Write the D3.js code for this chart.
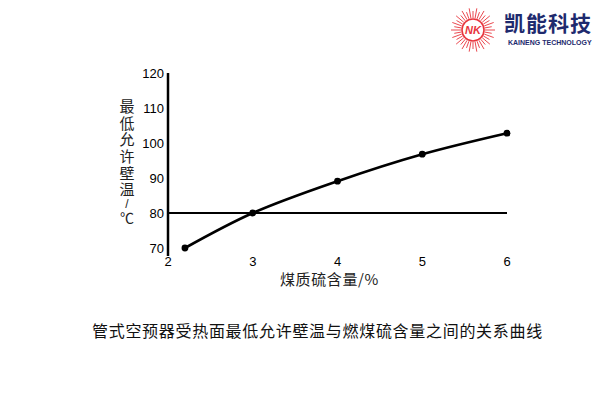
<!DOCTYPE html>
<html>
<head>
<meta charset="utf-8">
<script src="https://cdn.jsdelivr.net/npm/d3@7/dist/d3.min.js"></script>
<style>
  html, body { margin: 0; padding: 0; background: #fff; }
  svg { display: block; }
</style>
</head>
<body>
<svg id="chart" width="600" height="400"></svg>
<script>
// Sulfur content of coal (%) vs. minimum allowable wall temperature (°C)
const sulfur = [2.2, 3, 4, 5, 6];
const wallTemp = [70, 80, 89.1, 96.8, 102.8];
const xTicks = [2, 3, 4, 5, 6];
const yTicks = [70, 80, 90, 100, 110, 120];
const refTemp = 80;

const yLabel = "最低允许壁温";
const yUnit = "/℃";
const xLabel = "煤质硫含量/%";
const caption = "管式空预器受热面最低允许壁温与燃煤硫含量之间的关系曲线";

const svg = d3.select("#chart");
const cjk = "'Noto Sans CJK SC', sans-serif";
const num = "'Liberation Sans', Arial, sans-serif";

const x = d3.scaleLinear().domain([2, 6]).range([168, 507]);
const y = d3.scaleLinear().domain([70, 120]).range([248, 73]);

// Vertical axis line
svg.append("line")
  .attr("x1", x(2)).attr("x2", x(2))
  .attr("y1", y(120)).attr("y2", 256)
  .attr("stroke", "#000").attr("stroke-width", 2.5);

// Y tick labels
svg.append("g").selectAll("text").data(yTicks).join("text")
  .attr("x", x(2) - 4)
  .attr("y", d => y(d))
  .attr("dy", "0.36em")
  .attr("text-anchor", "end")
  .attr("font-family", num).attr("font-size", 13)
  .text(d => d);

// X tick labels
svg.append("g").selectAll("text").data(xTicks).join("text")
  .attr("x", d => x(d))
  .attr("y", 261)
  .attr("dy", "0.36em")
  .attr("text-anchor", "middle")
  .attr("font-family", num).attr("font-size", 13)
  .text(d => d);

// Reference line at 80 °C
svg.append("line")
  .attr("x1", x(2)).attr("x2", x(6))
  .attr("y1", y(refTemp)).attr("y2", y(refTemp))
  .attr("stroke", "#000").attr("stroke-width", 2);

// Curve
const pts = sulfur.map((s, i) => [s, wallTemp[i]]);
svg.append("path")
  .datum(pts)
  .attr("fill", "none")
  .attr("stroke", "#000")
  .attr("stroke-width", 2.6)
  .attr("stroke-linejoin", "round")
  .attr("d", d3.line().x(d => x(d[0])).y(d => y(d[1])).curve(d3.curveCatmullRom.alpha(0.5)));

svg.append("g").selectAll("circle").data(pts).join("circle")
  .attr("cx", d => x(d[0])).attr("cy", d => y(d[1]))
  .attr("r", 3.4).attr("fill", "#000");

// Vertical Y-axis title
svg.append("text")
  .attr("x", 127).attr("y", 99)
  .attr("font-family", cjk).attr("font-size", 15)
  .attr("letter-spacing", 1.6)
  .style("writing-mode", "vertical-rl")
  .style("text-orientation", "upright")
  .attr("fill", "#222")
  .text(yLabel);
svg.append("text")
  .attr("x", 127).attr("y", 204)
  .attr("dy", "0.36em")
  .attr("text-anchor", "middle")
  .attr("font-family", num).attr("font-size", 12)
  .attr("fill", "#222")
  .text(yUnit[0]);
svg.append("text")
  .attr("x", 127).attr("y", 218)
  .attr("dy", "0.36em")
  .attr("text-anchor", "middle")
  .attr("font-family", cjk).attr("font-size", 14)
  .attr("fill", "#222")
  .text(yUnit[1]);

// X-axis title
svg.append("text")
  .attr("x", 280).attr("y", 280).attr("dy", "0.36em")
  .attr("font-family", cjk).attr("font-size", 15)
  .attr("letter-spacing", 0.6)
  .attr("fill", "#222")
  .text(xLabel);

// Caption
svg.append("text")
  .attr("x", 92).attr("y", 331).attr("dy", "0.36em")
  .attr("font-family", cjk).attr("font-size", 16)
  .attr("letter-spacing", 0.7)
  .attr("fill", "#111")
  .text(caption);

// Company logo
const logo = svg.append("g").attr("transform", "translate(473,30)");
const rays = d3.range(36);
logo.selectAll("line").data(rays).join("line")
  .attr("x1", d => Math.cos(d * Math.PI / 18) * 12)
  .attr("y1", d => Math.sin(d * Math.PI / 18) * 12)
  .attr("x2", d => Math.cos(d * Math.PI / 18) * (d % 2 ? 19 : 22))
  .attr("y2", d => Math.sin(d * Math.PI / 18) * (d % 2 ? 19 : 22))
  .attr("stroke", "#e8343c").attr("stroke-width", 0.9);
logo.append("circle").attr("r", 11).attr("fill", "#fff")
  .attr("stroke", "#e8343c").attr("stroke-width", 1.6);
logo.append("text")
  .attr("text-anchor", "middle").attr("dy", "0.36em")
  .attr("font-family", num).attr("font-weight", "bold").attr("font-size", 11)
  .attr("fill", "#e8343c").attr("font-style", "italic")
  .text("NK");

svg.append("text")
  .attr("x", 504).attr("y", 23).attr("dy", "0.36em")
  .attr("font-family", cjk).attr("font-weight", "bold").attr("font-size", 21)
  .attr("letter-spacing", 1)
  .attr("fill", "#1e2a6e")
  .text("凯能科技");
svg.append("text")
  .attr("x", 508).attr("y", 42).attr("dy", "0.36em")
  .attr("font-family", num).attr("font-weight", "bold").attr("font-size", 7)
  .attr("fill", "#1e2a6e")
  .text("KAINENG TECHNOLOGY");
</script>
</body>
</html>
